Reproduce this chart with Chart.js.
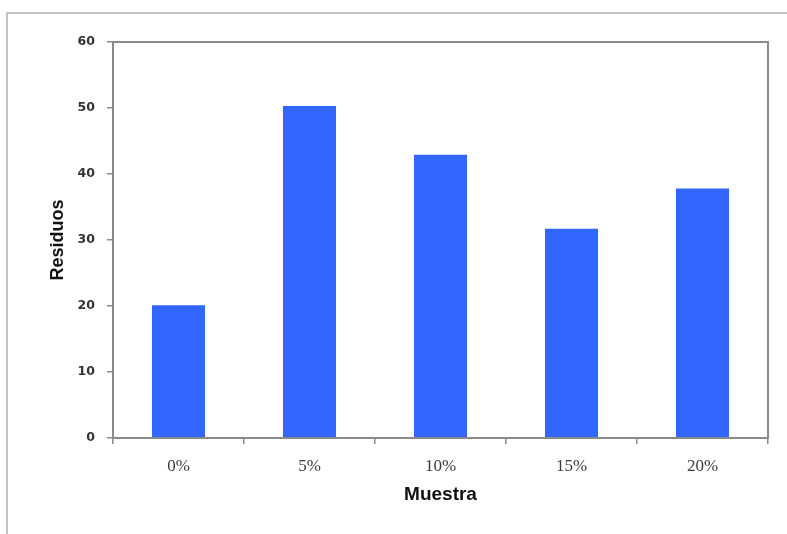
<!DOCTYPE html>
<html>
<head>
<meta charset="utf-8">
<script src="https://cdn.jsdelivr.net/npm/chart.js@4"></script>
<style>
  html, body { margin: 0; padding: 0; background: #fff; }
  #wrap { position: relative; width: 787px; height: 534px; overflow: hidden; }
  #frame { position: absolute; left: 6px; top: 12px; width: 820px; height: 600px;
           border-top: 2px solid #c4c4c4; border-left: 2px solid #c4c4c4; }
  canvas { position: absolute; left: 0; top: 0; }
</style>
</head>
<body>
<div id="wrap">
  <div id="frame"></div>
  <canvas id="chart" width="787" height="534"></canvas>
</div>
<script>
// Residuos por porcentaje de muestra
const categories = ['0%', '5%', '10%', '15%', '20%'];
const residuos = [20.1, 50.3, 42.9, 31.7, 37.8];
const yTicks = { min: 0, max: 60, step: 10 };

const AXIS_GREY = '#8a8a8a';

// Frame drawn around the plotting area
const plotBorder = {
  id: 'plotBorder',
  afterDatasetsDraw(chart) {
    const { ctx, chartArea: a } = chart;
    ctx.save();
    ctx.strokeStyle = AXIS_GREY;
    ctx.lineWidth = 2;
    ctx.strokeRect(a.left, a.top, a.right - a.left, a.bottom - a.top);
    ctx.restore();
  }
};

new Chart(document.getElementById('chart'), {
  type: 'bar',
  data: {
    labels: categories,
    datasets: [{
      data: residuos,
      backgroundColor: '#3366ff',
      borderWidth: 0,
      categoryPercentage: 1,
      barPercentage: 0.405
    }]
  },
  options: {
    responsive: false,
    animation: false,
    events: [],
    layout: { padding: { left: 0, right: 19, top: 42, bottom: 0 } },
    plugins: { legend: { display: false }, tooltip: { enabled: false } },
    scales: {
      x: {
        afterFit(scale) { scale.height = 96; },
        grid: { display: true, drawOnChartArea: false, drawTicks: true, tickLength: 6,
                color: AXIS_GREY, lineWidth: 1.5, offset: true },
        border: { display: true, color: AXIS_GREY, width: 2 },
        ticks: { color: '#3a3a3a', padding: 12,
                 font: { family: '"Liberation Serif", serif', size: 17 } },
        title: { display: true, text: 'Muestra', color: '#111',
                 font: { family: '"Liberation Sans", sans-serif', size: 19, weight: 'bold' },
                 padding: { top: 0, bottom: 28 } }
      },
      y: {
        min: yTicks.min, max: yTicks.max,
        afterFit(scale) { scale.width = 113; },
        grid: { display: true, drawOnChartArea: false, drawTicks: true, tickLength: 6,
                color: AXIS_GREY, lineWidth: 1.5 },
        border: { display: true, color: AXIS_GREY, width: 2 },
        ticks: { stepSize: yTicks.step, color: '#333', padding: 12,
                 font: { family: '"DejaVu Sans", sans-serif', size: 12.5, weight: 'bold' } },
        title: { display: true, text: 'Residuos', color: '#111',
                 font: { family: '"Liberation Sans", sans-serif', size: 18, weight: 'bold' },
                 padding: { top: 47, bottom: 0 } }
      }
    }
  },
  plugins: [plotBorder]
});
</script>
</body>
</html>
